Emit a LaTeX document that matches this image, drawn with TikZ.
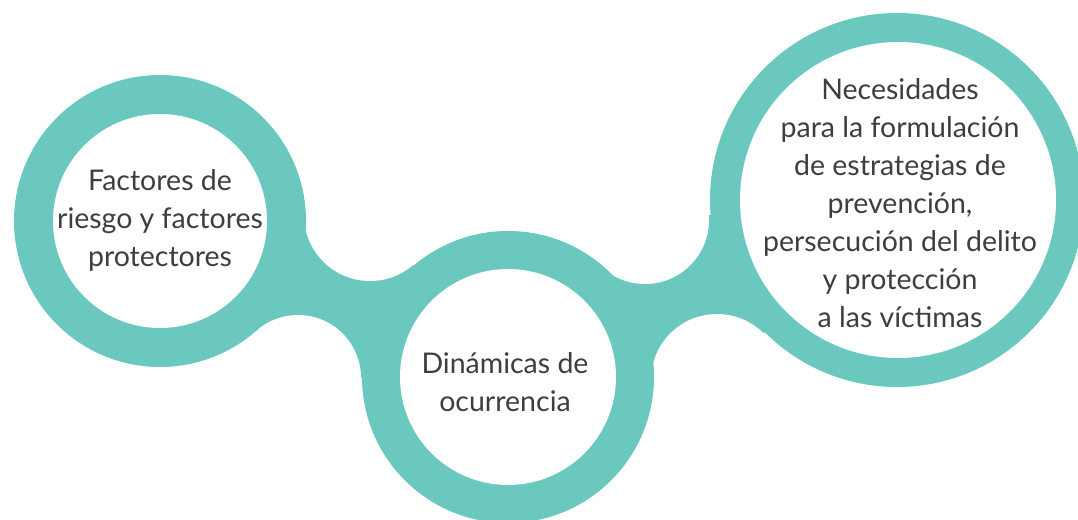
\documentclass[tikz,border=0pt]{standalone}
\usepackage{fontspec}
\setmainfont{Lato}
\definecolor{ring}{RGB}{107,200,190}
\definecolor{txt}{RGB}{62,62,62}
\tikzset{
  ringfill/.style={fill=ring},
  gapfill/.style={fill=white},
  label/.style={align=center, text=txt, font=\fontsize{28.5}{38}\selectfont, inner sep=0pt},
}
\begin{document}
\begin{tikzpicture}[x=1pt,y=-1pt]
\useasboundingbox (0,0) rectangle (1078,519);
% centres
\coordinate (cL) at (160,221);
\coordinate (cM) at (508,377);
\coordinate (cR) at (897,200);
\coordinate (uLM) at (370,215);
\coordinate (dLM) at (298,378);
\coordinate (uMR) at (645,220);
\coordinate (dMR) at (717,380);
% necks
\fill[ringfill] (cL) -- (uLM) -- (cM) -- (dLM) -- cycle;
\fill[ringfill] (cM) -- (uMR) -- (cR) -- (dMR) -- cycle;
\fill[gapfill] (uLM) circle[radius=66pt];
\fill[gapfill] (dLM) circle[radius=63pt];
\fill[gapfill] (uMR) circle[radius=64pt];
\fill[gapfill] (dMR) circle[radius=66pt];
% rings
\fill[ringfill] (cL) circle[radius=146pt];
\fill[ringfill] (cM) circle[radius=146pt];
\fill[ringfill] (cR) circle[radius=187pt];
\fill[white] (160,221) circle[radius=107pt];
\fill[white] (508,377) circle[radius=108pt];
\fill[white] (898,200) circle[radius=158pt];
% texts
\node[label] (tL) at (160,220) {Factores de\\riesgo y factores\\protectores};
\node[label] (tM) at (505,382) {Dinámicas de\\ocurrencia};
\node[label] (tR) at (900,203) {Necesidades\\para la formulación\\de estrategias de\\prevención,\\persecución del delito\\y protección\\a las víctimas};
\end{tikzpicture}
\end{document}
